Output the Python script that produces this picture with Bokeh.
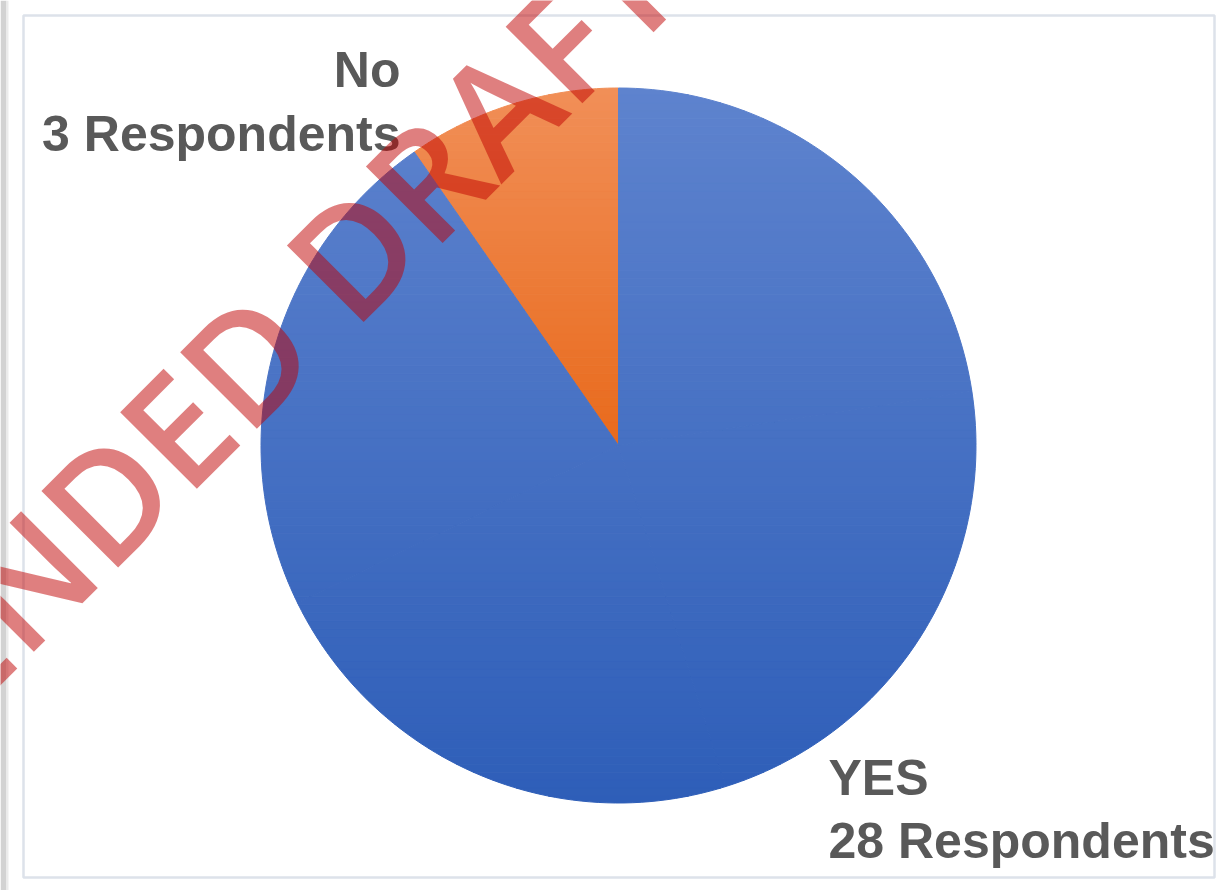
import numpy as np
from bokeh.plotting import figure
from bokeh.models import Range1d, ColumnDataSource
from bokeh.core.properties import value
from bokeh.embed import file_html
from bokeh.resources import INLINE

# ---- data ----
categories = ["No", "YES"]
counts = [3, 28]
count_labels = ["3 Respondents", "28 Respondents"]
top_colors = ["#F18F58", "#5E83CE"]
bottom_colors = ["#E86A1C", "#2E5EB8"]
watermark = "AMENDED DRAFT"

# ---- layout ----
W, H = 1224, 890
SCREEN_H = 894


def sy(y):
    """screen y (pixels from top of page) -> data y"""
    return SCREEN_H - y


p = figure(width=W, height=H, x_range=Range1d(0, W), y_range=Range1d(SCREEN_H - H, SCREEN_H),
           output_backend="svg", toolbar_location=None, min_border=0)
p.axis.visible = False
p.grid.visible = False
p.outline_line_color = None
p.background_fill_color = "white"
p.border_fill_color = "white"

# screenshot edge shadow on the left
p.quad(left=[0], right=[6], bottom=[sy(894)], top=[sy(0)], fill_color="#D2D2D2", line_color=None)
p.quad(left=[6], right=[8], bottom=[sy(894)], top=[sy(0)], fill_color="#EBEBEB", line_color=None)

# chart border
p.quad(left=[23], right=[1214], bottom=[sy(877)], top=[sy(15)], fill_color=None,
       line_color="#DDE2EA", line_width=2.5)

# ---- pie with vertical gradient (built by slicing each wedge in horizontal bands) ----
cx, cy, r = 618.0, sy(445), 357.5
total = float(sum(counts))
fracs = np.array(counts) / total
starts = np.pi / 2 + 2 * np.pi * np.concatenate([[0], np.cumsum(fracs)[:-1]])
ends = starts + 2 * np.pi * fracs


def hex2rgb(h):
    h = h.lstrip("#")
    return np.array([int(h[i:i + 2], 16) for i in (0, 2, 4)], dtype=float)


def rgb2hex(c):
    c = np.clip(np.round(c), 0, 255).astype(int)
    return "#%02x%02x%02x" % tuple(c)


def sector_poly(a0, a1, n=60):
    t = np.linspace(a0, a1, n)
    pts = [(cx, cy)] + list(zip(cx + r * np.cos(t), cy + r * np.sin(t)))
    return pts


def clip(poly, yv, keep_above):
    out = []
    n = len(poly)
    for i in range(n):
        P = poly[i]
        Q = poly[(i + 1) % n]
        pin = P[1] >= yv if keep_above else P[1] <= yv
        qin = Q[1] >= yv if keep_above else Q[1] <= yv
        if pin:
            out.append(P)
        if pin != qin:
            tt = (yv - P[1]) / (Q[1] - P[1])
            out.append((P[0] + tt * (Q[0] - P[0]), yv))
    return out


NB = 90
band_edges = np.linspace(cy - r - 1, cy + r + 1, NB + 1)
xs_all, ys_all, cols = [], [], []
for a0, a1, tc, bc in zip(starts, ends, top_colors, bottom_colors):
    k = int(np.ceil((a1 - a0) / (np.pi / 2) - 1e-9))
    subs = np.linspace(a0, a1, k + 1)
    polys = [sector_poly(subs[j], subs[j + 1]) for j in range(k)]
    allys = np.concatenate([[q[1] for q in pl] for pl in polys])
    ymin, ymax = allys.min(), allys.max()
    ctop, cbot = hex2rgb(tc), hex2rgb(bc)
    for pl in polys:
        for b in range(NB):
            y0, y1 = band_edges[b], band_edges[b + 1]
            piece = clip(clip(pl, y0, True), y1, False)
            if len(piece) < 3:
                continue
            ym = min(max((y0 + y1) / 2, ymin), ymax)
            t = (ymax - ym) / (ymax - ymin)
            col = rgb2hex(ctop * (1 - t) + cbot * t)
            xs_all.append([q[0] for q in piece])
            ys_all.append([q[1] for q in piece])
            cols.append(col)

src = ColumnDataSource(dict(xs=xs_all, ys=ys_all, color=cols))
p.patches("xs", "ys", source=src, fill_color="color", line_color="color", line_width=1)

# ---- data labels ----
label_x = [400, 828]
label_align = ["right", "left"]
name_y = [sy(69), sy(777)]
count_y = [sy(133), sy(840)]
lab = ColumnDataSource(dict(x=label_x, name_y=name_y, count_y=count_y, name=categories,
                            cnt=count_labels, align=label_align))
for ycol, tcol in (("name_y", "name"), ("count_y", "cnt")):
    p.text(x="x", y=ycol, text=tcol, source=lab, text_align="align", text_baseline="middle",
           text_font=value("Liberation Sans"), text_font_style="bold", text_font_size="50px",
           text_color="#595959")

# ---- watermark ----
p.text(x=[200], y=[sy(402)], text=[watermark], angle=np.pi / 4,
       text_font=value("Open Sans SemiBold"), text_font_size="152px", text_color="#C00000",
       text_alpha=0.5, text_align="center", text_baseline="alphabetic")

open("out.html", "w").write(file_html(p, INLINE))
